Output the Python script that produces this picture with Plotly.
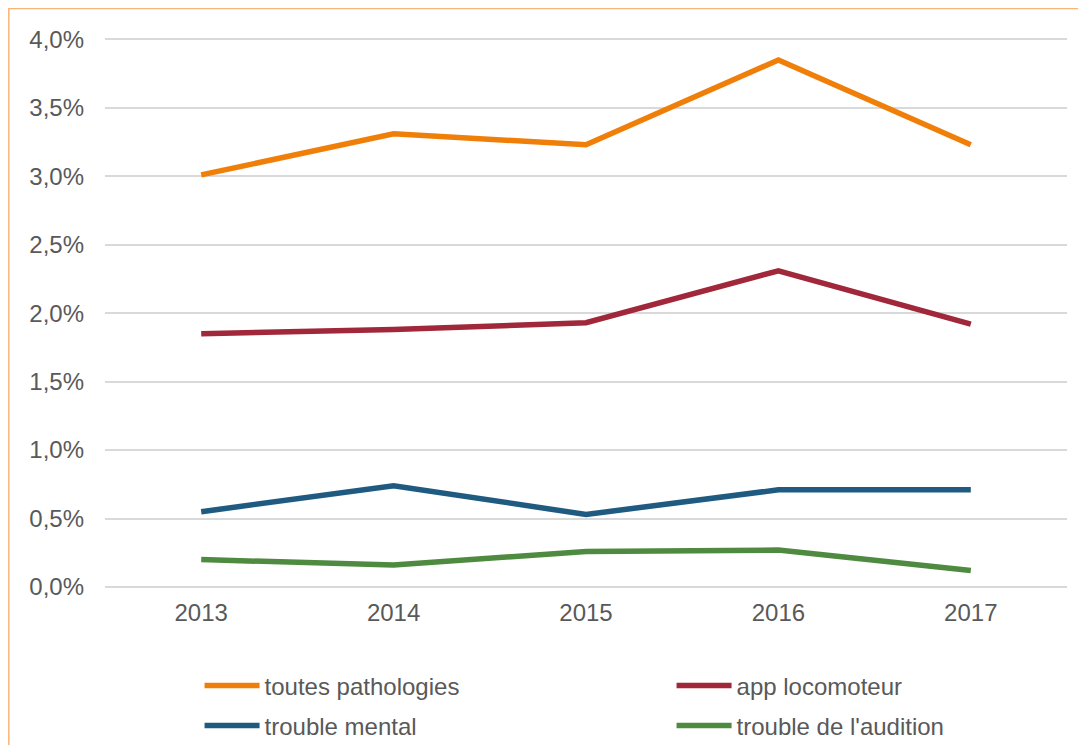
import plotly.graph_objects as go

annees = ["2013", "2014", "2015", "2016", "2017"]
toutes_pathologies = [0.0301, 0.0331, 0.0323, 0.0385, 0.0323]
app_locomoteur = [0.0185, 0.0188, 0.0193, 0.0231, 0.0192]
trouble_mental = [0.0055, 0.0074, 0.0053, 0.0071, 0.0071]
trouble_audition = [0.0020, 0.0016, 0.0026, 0.0027, 0.0012]

series = [
    ("toutes pathologies", toutes_pathologies, "#F07F09", "legend"),
    ("app locomoteur", app_locomoteur, "#A0283A", "legend"),
    ("trouble mental", trouble_mental, "#1F5B80", "legend2"),
    ("trouble de l'audition", trouble_audition, "#4E8A40", "legend2"),
]

fig = go.Figure()
for nom, valeurs, couleur, leg in series:
    fig.add_trace(go.Scatter(
        x=annees, y=valeurs, name=nom, mode="lines",
        line=dict(color=couleur, width=5.5), legend=leg,
    ))

legende = dict(
    orientation="h", x=0.0983, xanchor="left", yanchor="middle",
    entrywidth=402, traceorder="normal", itemwidth=55,
    font=dict(size=24), bgcolor="rgba(0,0,0,0)",
)

# la page html ajoute une marge de 8 px autour de la figure
fig.update_layout(
    width=1078, height=737,
    margin=dict(l=97, r=19, t=30, b=158, autoexpand=False),
    paper_bgcolor="white", plot_bgcolor="white",
    font=dict(family="Liberation Sans, Arial", size=24, color="#595959"),
    separators=", ",
    legend=dict(legende, y=-0.180),
    legend2=dict(legende, y=-0.253),
    # cadre orange clair autour du graphique
    shapes=[dict(
        type="rect", xref="paper", yref="paper",
        x0=-0.1, x1=1.1, y0=-0.4, y1=1.0537,
        line=dict(color="#F8B57A", width=1.5),
    )],
)

fig.update_xaxes(range=[-0.5, 4.5], showgrid=False, showline=False,
                 ticks="", ticklabelstandoff=9)
fig.update_yaxes(
    range=[0, 0.0401], dtick=0.005, tickformat=".1%",
    showgrid=True, gridcolor="#D9D9D9", gridwidth=1.5,
    zeroline=True, zerolinecolor="#D9D9D9", zerolinewidth=1.5,
    showline=False, ticks="", ticklabelstandoff=20,
)

fig.write_html("out.html")
